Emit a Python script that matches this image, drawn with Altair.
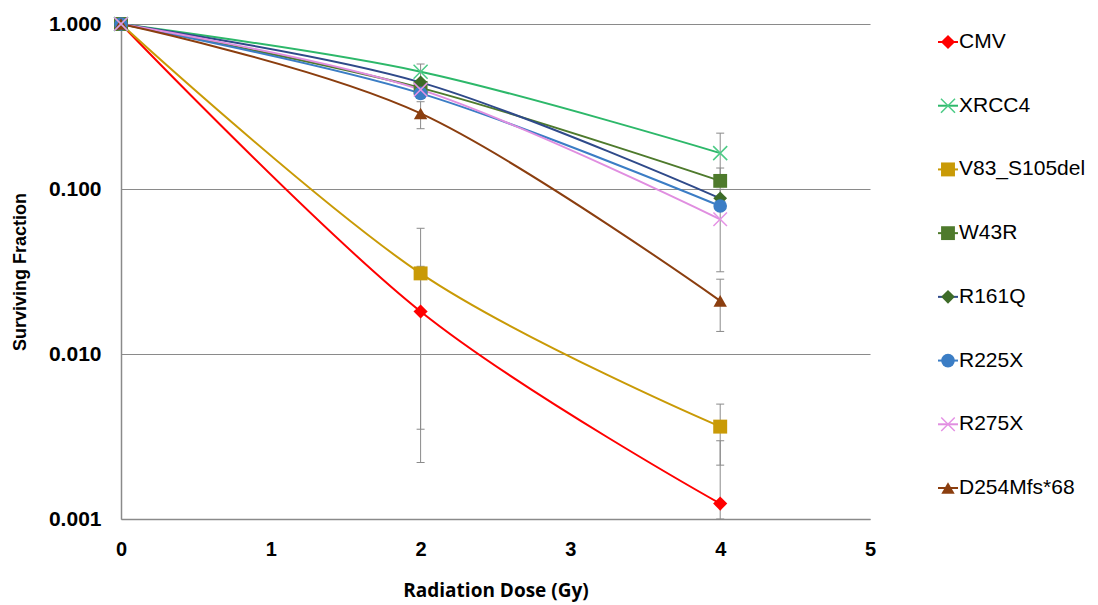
import altair as alt
import pandas as pd

series = ["CMV", "XRCC4", "V83_S105del", "W43R", "R161Q", "R225X", "R275X", "D254Mfs*68"]
doses = [0, 2, 4]
cmv = [1.0, 0.0181, 0.00124]
xrcc4 = [1.0, 0.514, 0.165]
v83 = [1.0, 0.0308, 0.00363]
w43r = [1.0, 0.41, 0.112]
r161q = [1.0, 0.443, 0.0878]
r225x = [1.0, 0.380, 0.0789]
r275x = [1.0, 0.400, 0.0655]
d254 = [1.0, 0.287, 0.0210]
values = [cmv, xrcc4, v83, w43r, r161q, r225x, r275x, d254]

line_colors = ["#FF0000", "#2DB86A", "#C99A06", "#4E7A2C", "#2F4A8A", "#3B7DC5", "#E08EE0", "#8B3E0F"]
marker_colors = ["#FF0000", "#4CCB86", "#C99A06", "#4E7A2C", "#3D6B28", "#3B7DC5", "#E592E5", "#8B3E0F"]
xpath = "M-1,-1L1,1M-1,1L1,-1"
shapes = ["diamond", xpath, "square", "square", "diamond", "circle", xpath, "triangle-up"]
sizes = [200, 180, 100, 110, 150, 90, 180, 140]
hollow = ["XRCC4", "R275X"]

err_series = ["XRCC4", "D254Mfs*68", "V83_S105del", "CMV",
              "XRCC4", "W43R", "R275X", "D254Mfs*68", "V83_S105del", "CMV"]
err_dose = [2, 2, 2, 2, 4, 4, 4, 4, 4, 4]
err_lo = [0.456, 0.232, 0.0035, 0.0022, 0.112, 0.090, 0.0315, 0.0137, 0.00212, 0.001]
err_hi = [0.572, 0.338, 0.0578, 0.034, 0.218, 0.134, 0.0995, 0.0284, 0.00497, 0.00298]

rows = []
for name, vals in zip(series, values):
    for d, v in zip(doses, vals):
        rows.append({"series": name, "dose": d, "sf": v})
df = pd.DataFrame(rows)
err = pd.DataFrame({"series": err_series, "dose": err_dose, "lo": err_lo, "hi": err_hi})

FONT = "Liberation Sans"
GRAY = "#8a8a8a"

xenc = alt.X("dose:Q", scale=alt.Scale(domain=[0, 5], nice=False),
             axis=alt.Axis(values=[0, 1, 2, 3, 4, 5], format="d", grid=False, ticks=False,
                           labelFlush=False,
                           domainColor=GRAY, domainWidth=1.5,
                           labelFont=FONT, labelFontWeight="bold", labelFontSize=20,
                           labelColor="#000", labelPadding=20,
                           title="Radiation Dose (Gy)", titleFont="Open Sans",
                           titleFontWeight="bold", titleFontSize=19, titleColor="#000",
                           titlePadding=22))
yscale = alt.Scale(type="log", domain=[0.001, 1], nice=False)
yenc = alt.Y("sf:Q", scale=yscale,
             axis=alt.Axis(values=[0.001, 0.01, 0.1, 1], format=".3f", grid=True,
                           gridColor=GRAY, gridWidth=1.2, ticks=False,
                           domainColor=GRAY, domainWidth=1.5,
                           labelFont=FONT, labelFontWeight="bold", labelFontSize=21,
                           labelColor="#000", labelPadding=20,
                           title="Surviving Fraction", titleFont=FONT,
                           titleFontWeight="bold", titleFontSize=18, titleColor="#000",
                           titlePadding=19))

line_color = alt.Color("series:N", scale=alt.Scale(domain=series, range=line_colors), legend=None)
mk_color = alt.Fill("series:N", scale=alt.Scale(domain=series, range=marker_colors), legend=None)
mk_stroke = alt.Stroke("series:N", scale=alt.Scale(domain=series, range=marker_colors), legend=None)
shape_enc = alt.Shape("series:N", scale=alt.Scale(domain=series, range=shapes), legend=None)
size_enc = alt.Size("series:N", scale=alt.Scale(domain=series, range=sizes), legend=None)

lines = alt.Chart(df).mark_line(interpolate="cardinal", tension=0, strokeWidth=2).encode(
    x=xenc, y=yenc, color=line_color, order="dose:Q")

err_rule = alt.Chart(err).mark_rule(color=GRAY, strokeWidth=1).encode(
    x="dose:Q", y=alt.Y("lo:Q", scale=yscale), y2="hi:Q")
cap = "M-1,0L1,0"
err_lo_cap = alt.Chart(err).mark_point(shape=cap, size=64, color=GRAY, strokeWidth=1,
                                       filled=False, opacity=1).encode(
    x="dose:Q", y=alt.Y("lo:Q", scale=yscale))
err_hi_cap = alt.Chart(err).mark_point(shape=cap, size=64, color=GRAY, strokeWidth=1,
                                       filled=False, opacity=1).encode(
    x="dose:Q", y=alt.Y("hi:Q", scale=yscale))

pts_filled = alt.Chart(df).transform_filter(
    ~alt.FieldOneOfPredicate(field="series", oneOf=hollow)
).mark_point(filled=True, opacity=1, strokeWidth=0).encode(
    x="dose:Q", y=alt.Y("sf:Q", scale=yscale), fill=mk_color, shape=shape_enc, size=size_enc)
pts_hollow = alt.Chart(df).transform_filter(
    alt.FieldOneOfPredicate(field="series", oneOf=hollow)
).mark_point(filled=False, opacity=1, strokeWidth=1.5).encode(
    x="dose:Q", y=alt.Y("sf:Q", scale=yscale), stroke=mk_stroke, shape=shape_enc, size=size_enc)

main = alt.layer(lines, err_rule, err_lo_cap, err_hi_cap, pts_filled, pts_hollow).properties(
    width=749, height=495)

leg_df = pd.DataFrame({"series": series, "idx": list(range(len(series)))})
ly = alt.Y("idx:Q", scale=alt.Scale(domain=[0, 7], range=[18, 464], nice=False, zero=False),
           axis=None)
leg_rule = alt.Chart(leg_df).mark_rule(strokeWidth=2).encode(
    x=alt.value(6), x2=alt.value(26), y=ly, color=line_color)
leg_pts_f = alt.Chart(leg_df).transform_filter(
    ~alt.FieldOneOfPredicate(field="series", oneOf=hollow)
).mark_point(filled=True, opacity=1, strokeWidth=0).encode(
    x=alt.value(16), y=ly, fill=mk_color, shape=shape_enc, size=size_enc)
leg_pts_h = alt.Chart(leg_df).transform_filter(
    alt.FieldOneOfPredicate(field="series", oneOf=hollow)
).mark_point(filled=False, opacity=1, strokeWidth=1.5).encode(
    x=alt.value(16), y=ly, stroke=mk_stroke, shape=shape_enc, size=size_enc)
leg_text = alt.Chart(leg_df).mark_text(align="left", baseline="middle", font=FONT,
                                       fontSize=21, color="#000").encode(
    x=alt.value(27), y=ly, text="series:N")
legend = alt.layer(leg_rule, leg_pts_f, leg_pts_h, leg_text).properties(width=150, height=495)

chart = alt.hconcat(main, legend, spacing=56).resolve_scale(
    color="independent", fill="independent", stroke="independent",
    shape="independent", size="independent", y="independent"
).configure_view(stroke=None).properties(
    padding={"left": 3, "top": 5, "right": 0, "bottom": 2})

chart.save("out.html", embed_options={"renderer": "svg", "actions": False})
